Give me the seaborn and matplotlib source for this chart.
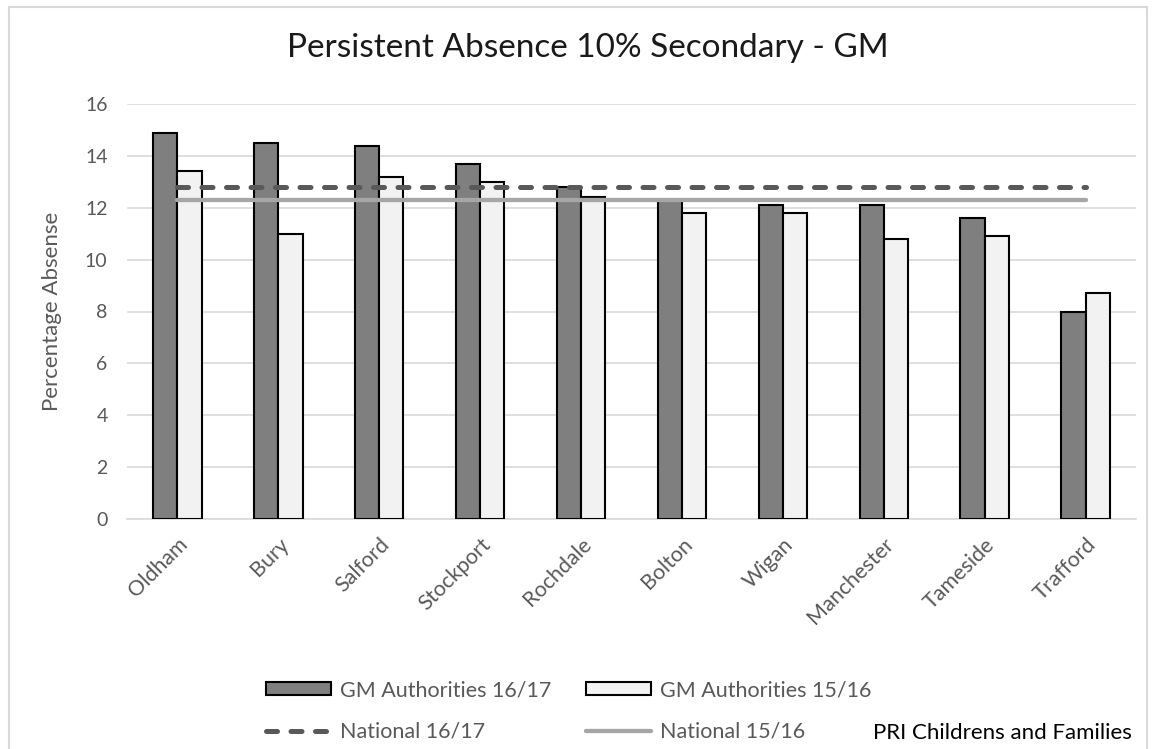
import numpy as np
import pandas as pd
import matplotlib
matplotlib.use("Agg")
import matplotlib.pyplot as plt
import seaborn as sns
from matplotlib.patches import Patch, Rectangle
from matplotlib.lines import Line2D

categories = ["Oldham", "Bury", "Salford", "Stockport", "Rochdale",
              "Bolton", "Wigan", "Manchester", "Tameside", "Trafford"]
gm_1617 = [14.9, 14.5, 14.4, 13.7, 12.8, 12.3, 12.1, 12.1, 11.6, 8.0]
gm_1516 = [13.4, 11.0, 13.2, 13.0, 12.4, 11.8, 11.8, 10.8, 10.9, 8.7]
national_1617 = [12.8] * 10
national_1516 = [12.3] * 10
series_names = ["GM Authorities 16/17", "GM Authorities 15/16"]
line_names = ["National 16/17", "National 15/16"]
yticks = [0, 2, 4, 6, 8, 10, 12, 14, 16]

df = pd.DataFrame({
    "Authority": categories * 2,
    "Series": [series_names[0]] * len(categories) + [series_names[1]] * len(categories),
    "Value": gm_1617 + gm_1516,
})

sns.set_theme(style="white")
plt.rcParams["font.family"] = ["Lato", "DejaVu Sans"]

W, H = 1155, 749
AX_L, AX_R, AX_T, AX_B = 127, 1136, 104, 519
fig = plt.figure(figsize=(W / 100, H / 100), dpi=100)
ax = fig.add_axes([AX_L / W, 1 - AX_B / H, (AX_R - AX_L) / W, (AX_B - AX_T) / H])

dark = "#7f7f7f"
light = "#f2f2f2"
sns.barplot(data=df, x="Authority", y="Value", hue="Series",
            palette=[dark, light], edgecolor="black", linewidth=1.5,
            width=0.48, ax=ax, legend=False, zorder=3)

xs = np.arange(len(categories))
dash_kw = dict(color="#595959", lw=3.6, dashes=(2.2, 2.7), dash_capstyle="round")
solid_kw = dict(color="#a6a6a6", lw=3.1, solid_capstyle="round")
ax.plot(xs, national_1617, zorder=5, **dash_kw)
ax.plot(xs, national_1516, zorder=4, **solid_kw)

ax.set_xlim(-0.5, len(categories) - 0.5)
ax.set_ylim(0, 16)
ax.set_yticks(yticks)
ax.yaxis.grid(True, color="#d9d9d9", lw=1.2, zorder=0)
ax.set_axisbelow(True)
for s in ["top", "right", "left"]:
    ax.spines[s].set_visible(False)
ax.spines["bottom"].set_color("#d9d9d9")
ax.spines["bottom"].set_linewidth(1.2)
ax.tick_params(axis="y", colors="#595959", labelsize=14, length=0, pad=14)
ax.tick_params(axis="x", colors="#595959", labelsize=15.5, length=0, pad=11)
ax.set_xlabel("")
ax.set_ylabel("Percentage Absense", fontsize=16, color="#595959")
ax.yaxis.set_label_coords((62 - AX_L) / (AX_R - AX_L), 0.5)
plt.setp(ax.get_xticklabels(), rotation=45, ha="right", rotation_mode="anchor")

fig.text(588 / W, 1 - 48 / H, "Persistent Absence 10% Secondary - GM",
         ha="center", va="center", fontsize=24, color="#1a1a1a")

handles = [
    Patch(facecolor=dark, edgecolor="black", linewidth=1.5),
    Patch(facecolor=light, edgecolor="black", linewidth=1.5),
    Line2D([0], [0], **dash_kw),
    Line2D([0], [0], **solid_kw),
]
labels = [series_names[0], series_names[1], line_names[0], line_names[1]]
# row-major order for a 2-column legend (matplotlib fills column-wise)
order = [0, 2, 1, 3]
leg = fig.legend([handles[i] for i in order], [labels[i] for i in order],
                 ncol=2, loc="center left",
                 bbox_to_anchor=(266 / W, 1 - 711 / H),
                 frameon=False, fontsize=15.5, labelcolor="#595959",
                 handlelength=3.0, handleheight=0.6, handletextpad=0.45,
                 columnspacing=1.6, labelspacing=1.0, borderpad=0,
                 borderaxespad=0)

fig.text(1132 / W, 1 - 733 / H, "PRI Childrens and Families",
         ha="right", va="center", fontsize=16, color="black")

fig.patches.append(Rectangle((9 / W, -0.05), (1147 - 9) / W, 1 - 7 / H + 0.05,
                             transform=fig.transFigure, fill=False,
                             edgecolor="#d9d9d9", lw=1.5))

fig.savefig("out.png", dpi=100)
